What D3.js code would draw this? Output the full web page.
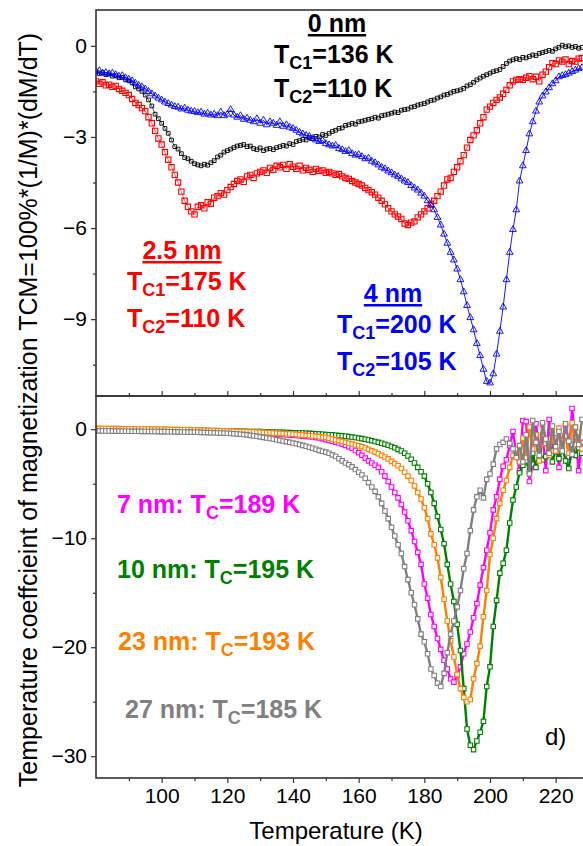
<!DOCTYPE html>
<html>
<head>
<meta charset="utf-8">
<script src="https://cdn.jsdelivr.net/npm/d3@7"></script>
<style>
body { margin: 0; background: #fff; }
svg { display: block; font-family: Arial, "Liberation Sans", sans-serif; }
</style>
</head>
<body>
<div id="chart"></div>
<script>
// Temperature grid (K) shared by all curves
const temperature = [
  80,81,82,83,84,85,86,87,88,89, 90,91,92,93,94,95,96,97,98,99,
  100,101,102,103,104,105,106,107,108,109, 110,111,112,113,114,115,116,117,118,119,
  120,121,122,123,124,125,126,127,128,129, 130,131,132,133,134,135,136,137,138,139,
  140,141,142,143,144,145,146,147,148,149, 150,151,152,153,154,155,156,157,158,159,
  160,161,162,163,164,165,166,167,168,169, 170,171,172,173,174,175,176,177,178,179,
  180,181,182,183,184,185,186,187,188,189, 190,191,192,193,194,195,196,197,198,199,
  200,201,202,203,204,205,206,207,208,209, 210,211,212,213,214,215,216,217,218,219,
  220,221,222,223,224,225,226,227,228
];

// Top panel: TCM (%/K) for 0, 2.5 and 4 nm
const tcm0nm = [
  -0.85,-0.92,-0.88,-0.95,-0.93,-1.00,-0.98,-1.05,-1.04,-1.12,
  -1.15,-1.22,-1.35,-1.42,-1.50,-1.62,-1.78,-1.98,-2.25,-2.40,
  -2.55,-2.72,-2.88,-3.10,-3.32,-3.40,-3.55,-3.68,-3.72,-3.80,
  -3.88,-3.92,-3.95,-3.90,-3.93,-3.85,-3.78,-3.66,-3.60,-3.50,
  -3.45,-3.40,-3.35,-3.30,-3.28,-3.25,-3.32,-3.30,-3.38,-3.42,
  -3.36,-3.45,-3.40,-3.38,-3.42,-3.35,-3.32,-3.28,-3.30,-3.22,
  -3.25,-3.15,-3.12,-3.08,-3.10,-3.02,-3.05,-2.98,-3.00,-2.92,
  -2.95,-2.88,-2.82,-2.78,-2.72,-2.70,-2.62,-2.60,-2.55,-2.58,
  -2.50,-2.48,-2.45,-2.42,-2.40,-2.35,-2.38,-2.30,-2.28,-2.25,
  -2.22,-2.18,-2.20,-2.12,-2.10,-2.08,-2.02,-2.00,-1.95,-1.92,
  -1.90,-1.85,-1.80,-1.78,-1.72,-1.68,-1.62,-1.60,-1.55,-1.50,
  -1.48,-1.45,-1.40,-1.32,-1.28,-1.20,-1.12,-1.06,-1.00,-0.95,
  -0.90,-0.85,-0.82,-0.78,-0.68,-0.58,-0.50,-0.46,-0.42,-0.45,
  -0.38,-0.40,-0.35,-0.30,-0.32,-0.25,-0.22,-0.19,-0.15,-0.18,
  -0.10,-0.05,0.02,-0.03,0.00,-0.05,-0.02,-0.08,-0.05
];
const tcm2p5nm = [
  -1.17,-1.25,-1.20,-1.30,-1.28,-1.35,-1.32,-1.42,-1.48,-1.55,
  -1.62,-1.75,-1.88,-1.95,-2.05,-2.15,-2.35,-2.55,-2.80,-3.05,
  -3.25,-3.50,-3.75,-4.00,-4.25,-4.50,-4.80,-5.10,-5.30,-5.45,
  -5.55,-5.30,-5.25,-5.35,-5.15,-5.20,-5.00,-4.95,-4.85,-4.90,
  -4.75,-4.65,-4.55,-4.45,-4.40,-4.48,-4.30,-4.25,-4.35,-4.20,
  -4.15,-4.10,-4.18,-4.02,-4.08,-3.95,-4.00,-3.92,-4.05,-3.90,
  -3.98,-4.05,-3.95,-4.10,-4.02,-4.08,-4.15,-4.05,-4.12,-4.10,
  -4.18,-4.15,-4.20,-4.25,-4.22,-4.30,-4.35,-4.38,-4.45,-4.50,
  -4.55,-4.60,-4.68,-4.75,-4.82,-4.90,-5.00,-5.10,-5.22,-5.35,
  -5.45,-5.55,-5.62,-5.70,-5.85,-5.90,-5.82,-5.78,-5.65,-5.55,
  -5.45,-5.35,-5.20,-5.10,-4.95,-4.80,-4.60,-4.40,-4.35,-4.15,
  -4.00,-3.80,-3.60,-3.35,-3.10,-2.95,-2.78,-2.55,-2.35,-2.10,
  -2.00,-1.88,-1.78,-1.70,-1.58,-1.45,-1.30,-1.17,-1.12,-1.10,
  -1.12,-1.05,-1.00,-1.10,-1.02,-1.17,-0.95,-0.85,-0.70,-0.57,
  -0.60,-0.48,-0.52,-0.45,-0.60,-0.50,-0.52,-0.42,-0.40
];
const tcm4nm = [
  -0.85,-0.82,-0.90,-0.88,-0.92,-0.90,-0.95,-1.00,-0.98,-1.05,
  -1.10,-1.15,-1.23,-1.30,-1.35,-1.42,-1.50,-1.58,-1.65,-1.72,
  -1.78,-1.85,-1.90,-1.95,-2.00,-2.02,-2.08,-2.05,-2.12,-2.15,
  -2.16,-2.20,-2.18,-2.25,-2.22,-2.28,-2.25,-2.30,-2.18,-2.30,
  -2.25,-2.10,-2.28,-2.35,-2.30,-2.42,-2.38,-2.45,-2.50,-2.40,
  -2.55,-2.45,-2.60,-2.50,-2.55,-2.62,-2.50,-2.65,-2.60,-2.68,
  -2.72,-2.78,-2.85,-2.90,-2.95,-2.98,-3.05,-3.10,-3.15,-3.12,
  -3.22,-3.26,-3.30,-3.28,-3.38,-3.42,-3.48,-3.45,-3.55,-3.60,
  -3.58,-3.65,-3.72,-3.70,-3.80,-3.85,-3.92,-4.00,-4.05,-4.12,
  -4.18,-4.25,-4.30,-4.38,-4.45,-4.50,-4.60,-4.68,-4.75,-4.85,
  -4.95,-5.10,-5.25,-5.40,-5.65,-5.90,-6.20,-6.50,-6.80,-7.05,
  -7.35,-7.70,-8.10,-8.55,-8.95,-9.35,-9.80,-10.20,-10.65,-11.05,
  -11.10,-10.80,-10.15,-9.40,-8.60,-7.70,-6.80,-6.05,-5.40,-4.45,
  -3.95,-3.45,-2.90,-2.50,-2.15,-1.85,-1.65,-1.52,-1.38,-1.25,
  -1.15,-1.02,-0.98,-0.95,-0.90,-0.85,-0.80,-0.75,-0.72
];

// Bottom panel: TCM (%/K) for 7, 10, 23 and 27 nm
const tcm7nm = [
  -0.05,-0.05,-0.06,-0.06,-0.07,-0.07,-0.08,-0.08,-0.09,-0.09,
  -0.10,-0.10,-0.11,-0.11,-0.12,-0.12,-0.13,-0.13,-0.14,-0.14,
  -0.15,-0.15,-0.16,-0.16,-0.17,-0.17,-0.18,-0.19,-0.20,-0.21,
  -0.22,-0.22,-0.23,-0.24,-0.25,-0.25,-0.26,-0.27,-0.28,-0.29,
  -0.30,-0.31,-0.32,-0.33,-0.34,-0.35,-0.36,-0.37,-0.38,-0.39,
  -0.40,-0.41,-0.42,-0.44,-0.45,-0.46,-0.48,-0.49,-0.51,-0.53,
  -0.55,-0.57,-0.60,-0.63,-0.66,-0.69,-0.72,-0.76,-0.80,-0.86,
  -0.95,-1.02,-1.10,-1.18,-1.27,-1.37,-1.48,-1.60,-1.75,-1.95,
  -2.15,-2.40,-2.65,-2.90,-3.10,-3.30,-3.50,-3.90,-4.30,-4.80,
  -5.30,-5.80,-6.30,-6.90,-7.60,-8.40,-9.30,-10.30,-11.30,-12.40,
  -14.20,-15.50,-17.00,-18.10,-19.20,-20.20,-21.20,-22.00,-22.90,-23.20,
  -22.60,-21.80,-20.60,-19.70,-18.60,-17.30,-16.00,-14.30,-12.70,-11.10,
  -9.50,-7.40,-6.20,-4.60,-3.40,-2.80,-1.50,-0.20,-2.30,-3.80,
  0.80,0.70,-4.80,-3.20,0.50,-1.80,-0.50,-3.80,0.90,-2.00,
  -0.80,-3.50,-1.00,0.30,-2.60,1.90,-0.70,-3.80,-1.20
];
const tcm10nm = [
  -0.02,-0.03,-0.02,-0.03,-0.03,-0.04,-0.03,-0.04,-0.04,-0.05,
  -0.04,-0.05,-0.05,-0.05,-0.06,-0.06,-0.06,-0.07,-0.07,-0.07,
  -0.08,-0.08,-0.08,-0.09,-0.09,-0.10,-0.10,-0.10,-0.11,-0.11,
  -0.12,-0.12,-0.12,-0.13,-0.13,-0.14,-0.14,-0.15,-0.15,-0.16,
  -0.16,-0.17,-0.17,-0.18,-0.18,-0.19,-0.20,-0.20,-0.21,-0.22,
  -0.22,-0.23,-0.24,-0.25,-0.26,-0.27,-0.28,-0.29,-0.30,-0.31,
  -0.32,-0.33,-0.34,-0.35,-0.36,-0.38,-0.40,-0.42,-0.44,-0.46,
  -0.48,-0.50,-0.52,-0.55,-0.58,-0.61,-0.64,-0.68,-0.72,-0.76,
  -0.81,-0.86,-0.92,-0.98,-1.05,-1.12,-1.20,-1.28,-1.37,-1.47,
  -1.58,-1.70,-1.85,-2.00,-2.20,-2.45,-2.75,-3.10,-3.50,-3.90,
  -4.30,-5.00,-5.80,-6.80,-8.00,-9.20,-10.50,-12.40,-14.20,-15.80,
  -17.90,-20.30,-23.80,-27.50,-29.00,-29.40,-28.60,-27.80,-26.80,-23.60,
  -21.80,-18.10,-15.70,-13.20,-12.30,-11.10,-8.60,-6.50,-5.30,-4.00,
  -3.30,-2.90,-3.90,-2.20,-3.50,-1.80,-2.80,-2.50,-1.60,-3.00,
  -1.90,-2.70,-1.50,-2.90,-3.60,-1.40,-2.40,-1.70,-2.20
];
const tcm23nm = [
  0.08,0.08,0.07,0.07,0.07,0.06,0.06,0.06,0.05,0.05,
  0.05,0.04,0.04,0.03,0.03,0.02,0.02,0.01,0.01,0.00,
  0.00,-0.01,-0.01,-0.02,-0.03,-0.03,-0.04,-0.05,-0.05,-0.06,
  -0.07,-0.08,-0.08,-0.09,-0.10,-0.11,-0.12,-0.13,-0.14,-0.15,
  -0.16,-0.17,-0.18,-0.19,-0.20,-0.21,-0.22,-0.24,-0.25,-0.26,
  -0.28,-0.29,-0.31,-0.32,-0.34,-0.36,-0.38,-0.40,-0.42,-0.44,
  -0.46,-0.48,-0.50,-0.53,-0.56,-0.59,-0.62,-0.65,-0.69,-0.72,
  -0.75,-0.83,-0.90,-0.97,-1.05,-1.12,-1.20,-1.28,-1.36,-1.45,
  -1.52,-1.60,-1.72,-1.85,-1.98,-2.10,-2.25,-2.40,-2.55,-2.72,
  -2.95,-3.15,-3.35,-3.60,-3.95,-4.30,-4.70,-5.20,-5.80,-6.40,
  -7.20,-8.20,-9.60,-10.60,-11.80,-13.60,-15.60,-17.60,-19.40,-20.90,
  -22.50,-23.80,-24.60,-25.00,-24.80,-22.90,-21.50,-19.90,-17.20,-14.80,
  -11.50,-10.00,-8.20,-6.80,-5.60,-4.70,-3.50,-2.40,-1.80,-3.00,
  -0.80,-2.60,0.20,-1.80,-0.50,-2.90,0.40,-1.30,-2.40,-0.20,
  -2.00,0.10,-1.60,-0.60,-2.20,0.60,-1.40,-0.30,-1.80
];
const tcm27nm = [
  -0.15,-0.15,-0.16,-0.16,-0.16,-0.17,-0.17,-0.17,-0.18,-0.18,
  -0.18,-0.19,-0.19,-0.19,-0.20,-0.20,-0.20,-0.21,-0.21,-0.22,
  -0.22,-0.22,-0.23,-0.23,-0.24,-0.24,-0.25,-0.25,-0.26,-0.26,
  -0.27,-0.28,-0.29,-0.30,-0.31,-0.32,-0.33,-0.34,-0.35,-0.36,
  -0.37,-0.39,-0.41,-0.43,-0.46,-0.49,-0.52,-0.56,-0.60,-0.65,
  -0.70,-0.75,-0.80,-0.85,-0.90,-0.96,-1.02,-1.08,-1.14,-1.20,
  -1.26,-1.33,-1.40,-1.48,-1.56,-1.65,-1.74,-1.84,-1.94,-2.02,
  -2.10,-2.20,-2.35,-2.50,-2.70,-2.90,-3.10,-3.25,-3.45,-3.70,
  -3.95,-4.20,-4.50,-4.90,-5.30,-5.70,-6.20,-6.80,-7.50,-8.20,
  -9.00,-9.80,-10.60,-11.40,-12.60,-13.80,-15.00,-16.10,-17.40,-18.80,
  -19.50,-20.60,-22.00,-22.60,-23.30,-23.60,-22.40,-20.50,-18.80,-17.60,
  -16.30,-14.80,-12.80,-11.40,-9.30,-7.40,-6.20,-5.60,-6.30,-4.60,
  -4.10,-3.20,-1.80,-1.40,-1.20,-0.90,-1.30,-1.80,-2.60,-1.50,
  -3.00,-0.50,-4.10,0.80,-1.20,-2.40,0.60,-0.90,-2.20,0.30,
  -1.60,-0.20,-2.00,0.50,-1.10,-2.30,0.20,-1.40,0.90
];

// Tick values
const xTicks = [100, 120, 140, 160, 180, 200, 220];
const xMinorTicks = [90, 110, 130, 150, 170, 190, 210, 230];
const topYTicks = [0, -3, -6, -9];
const topYMinor = [-1.5, -4.5, -7.5, -10.5];
const bottomYTicks = [0, -10, -20, -30];
const bottomYMinor = [-5, -15, -25];

const w = 583, h = 846;
const left = 96, right = 588.5;
const topPanel = {y0: 10, y1: 396};
const bottomPanel = {y0: 396, y1: 778};
const frameColor = '#333';

const svg = d3.select('#chart')
  .append('svg')
  .attr('width', w)
  .attr('height', h);

// Scales
const xScale = d3.scaleLinear().domain([80, 230]).range([left, right]);
const yTop = d3.scaleLinear().domain([-11.53, 1.18]).range([topPanel.y1, topPanel.y0]);
const yBottom = d3.scaleLinear().domain([-32, 3.05]).range([bottomPanel.y1, bottomPanel.y0]);

// Clip paths for each panel
const defs = svg.append('defs');
defs.append('clipPath').attr('id', 'clipTop')
  .append('rect').attr('x', left).attr('y', topPanel.y0)
  .attr('width', right - left).attr('height', topPanel.y1 - topPanel.y0);
defs.append('clipPath').attr('id', 'clipBottom')
  .append('rect').attr('x', left).attr('y', bottomPanel.y0)
  .attr('width', right - left).attr('height', bottomPanel.y1 - bottomPanel.y0);

// Draw one series: line + markers
const drawSeries = (g, yScale, values, opt) => {
  const pts = temperature.map((t, i) => ({t: t, v: values[i]}));
  const line = d3.line().x(d => xScale(d.t)).y(d => yScale(d.v));
  g.append('path')
    .datum(pts)
    .attr('d', line)
    .attr('fill', 'none')
    .attr('stroke', opt.color)
    .attr('stroke-width', opt.lineWidth)
    .attr('stroke-linejoin', 'round');
  const sym = d3.symbol().type(opt.shape).size(opt.size);
  g.selectAll(null)
    .data(pts)
    .enter()
    .append('path')
    .attr('d', sym)
    .attr('transform', d => 'translate(' + xScale(d.t) + ',' + yScale(d.v) + ')')
    .attr('fill', opt.fill)
    .attr('stroke', opt.color)
    .attr('stroke-width', opt.markerWidth);
};

// Top panel data
const gTop = svg.append('g').attr('clip-path', 'url(#clipTop)');
drawSeries(gTop, yTop, tcm0nm, {color: '#000', lineWidth: 0.6, shape: d3.symbolSquare, size: 14, fill: 'none', markerWidth: 0.9});
drawSeries(gTop, yTop, tcm2p5nm, {color: '#ff0000', lineWidth: 0.6, shape: d3.symbolSquare, size: 28, fill: 'none', markerWidth: 1.1});
drawSeries(gTop, yTop, tcm4nm, {color: '#0000ff', lineWidth: 0.9, shape: d3.symbolTriangle, size: 20, fill: 'none', markerWidth: 0.9});

// Bottom panel data
const gBottom = svg.append('g').attr('clip-path', 'url(#clipBottom)');
const bottomSeries = [
  {values: tcm7nm, color: '#ff00ff'},
  {values: tcm10nm, color: '#008000'},
  {values: tcm23nm, color: '#ff8000'},
  {values: tcm27nm, color: '#808080'}
];
bottomSeries.forEach(s => {
  drawSeries(gBottom, yBottom, s.values, {color: s.color, lineWidth: 2.4, shape: d3.symbolSquare, size: 20, fill: '#fff', markerWidth: 1.1});
});

// Axes
const styleAxis = (g) => {
  g.select('.domain').remove();
  g.selectAll('.tick line').attr('stroke', frameColor).attr('stroke-width', 1.2);
  g.selectAll('.tick text').attr('fill', '#000').style('font-size', '21px').style('font-family', 'Arial, "Liberation Sans", sans-serif');
};

// Left axes
svg.append('g').attr('transform', 'translate(' + left + ',0)')
  .call(d3.axisLeft(yTop).tickValues(topYTicks).tickSize(5).tickPadding(4).tickFormat(d3.format('d')))
  .call(styleAxis);
svg.append('g').attr('transform', 'translate(' + left + ',0)')
  .call(d3.axisLeft(yTop).tickValues(topYMinor).tickSize(3).tickFormat(''))
  .call(styleAxis);
svg.append('g').attr('transform', 'translate(' + left + ',0)')
  .call(d3.axisLeft(yBottom).tickValues(bottomYTicks).tickSize(5).tickPadding(4).tickFormat(d3.format('d')))
  .call(styleAxis);
svg.append('g').attr('transform', 'translate(' + left + ',0)')
  .call(d3.axisLeft(yBottom).tickValues(bottomYMinor).tickSize(3).tickFormat(''))
  .call(styleAxis);

// Shared boundary ticks
svg.append('g').attr('transform', 'translate(0,' + topPanel.y1 + ')')
  .call(d3.axisTop(xScale).tickValues(xTicks).tickSize(5).tickFormat(''))
  .call(styleAxis);
svg.append('g').attr('transform', 'translate(0,' + topPanel.y1 + ')')
  .call(d3.axisTop(xScale).tickValues(xMinorTicks).tickSize(3).tickFormat(''))
  .call(styleAxis);

// Bottom x axis
svg.append('g').attr('transform', 'translate(0,' + bottomPanel.y1 + ')')
  .call(d3.axisBottom(xScale).tickValues(xTicks).tickSize(5).tickPadding(5))
  .call(styleAxis);
svg.append('g').attr('transform', 'translate(0,' + bottomPanel.y1 + ')')
  .call(d3.axisBottom(xScale).tickValues(xMinorTicks).tickSize(3).tickFormat(''))
  .call(styleAxis);

// Panel frames
[topPanel, bottomPanel].forEach(p => {
  svg.append('rect')
    .attr('x', left).attr('y', p.y0)
    .attr('width', right - left).attr('height', p.y1 - p.y0)
    .attr('fill', 'none')
    .attr('stroke', frameColor)
    .attr('stroke-width', 1.6);
});

// Axis titles
svg.append('text')
  .attr('transform', 'translate(37,410) rotate(-90)')
  .attr('text-anchor', 'middle')
  .style('font-size', '25px')
  .text('Temperature coeffcieint of magnetization TCM=100%*(1/M)*(dM/dT)');

svg.append('text')
  .attr('x', 336)
  .attr('y', 839)
  .attr('text-anchor', 'middle')
  .style('font-size', '24px')
  .text('Temperature (K)');

// Annotation with subscript parts
const addLabel = (x, y, parts, color, anchor) => {
  const t = svg.append('text')
    .attr('x', x).attr('y', y)
    .attr('text-anchor', anchor || 'start')
    .attr('fill', color)
    .style('font-size', '25px')
    .style('font-weight', 'bold');
  let shifted = false;
  parts.forEach(p => {
    const span = t.append('tspan').text(p.text);
    if (p.sub) {
      span.attr('dy', 6).style('font-size', '18px');
      shifted = true;
    } else if (shifted) {
      span.attr('dy', -6);
      shifted = false;
    }
    if (p.underline) span.style('text-decoration', 'underline');
  });
  return t;
};

addLabel(337, 32, [{text: '0 nm', underline: true}], '#000', 'middle');
addLabel(274, 63, [{text: 'T'}, {text: 'C1', sub: true}, {text: '=136 K'}], '#000');
addLabel(274, 97, [{text: 'T'}, {text: 'C2', sub: true}, {text: '=110 K'}], '#000');

addLabel(182, 259, [{text: '2.5 nm', underline: true}], '#ff0000', 'middle');
addLabel(127, 290, [{text: 'T'}, {text: 'C1', sub: true}, {text: '=175 K'}], '#ff0000');
addLabel(127, 327, [{text: 'T'}, {text: 'C2', sub: true}, {text: '=110 K'}], '#ff0000');

addLabel(393, 302, [{text: '4 nm', underline: true}], '#0000ff', 'middle');
addLabel(337, 333, [{text: 'T'}, {text: 'C1', sub: true}, {text: '=200 K'}], '#0000ff');
addLabel(337, 370, [{text: 'T'}, {text: 'C2', sub: true}, {text: '=105 K'}], '#0000ff');

addLabel(117, 513, [{text: '7 nm: T'}, {text: 'C', sub: true}, {text: '=189 K'}], '#ff00ff');
addLabel(117, 578, [{text: '10 nm: T'}, {text: 'C', sub: true}, {text: '=195 K'}], '#008000');
addLabel(118, 650, [{text: '23 nm: T'}, {text: 'C', sub: true}, {text: '=193 K'}], '#ff8000');
addLabel(125, 718, [{text: '27 nm: T'}, {text: 'C', sub: true}, {text: '=185 K'}], '#808080');

svg.append('text')
  .attr('x', 545)
  .attr('y', 745)
  .style('font-size', '24px')
  .text('d)');
</script>
</body>
</html>
